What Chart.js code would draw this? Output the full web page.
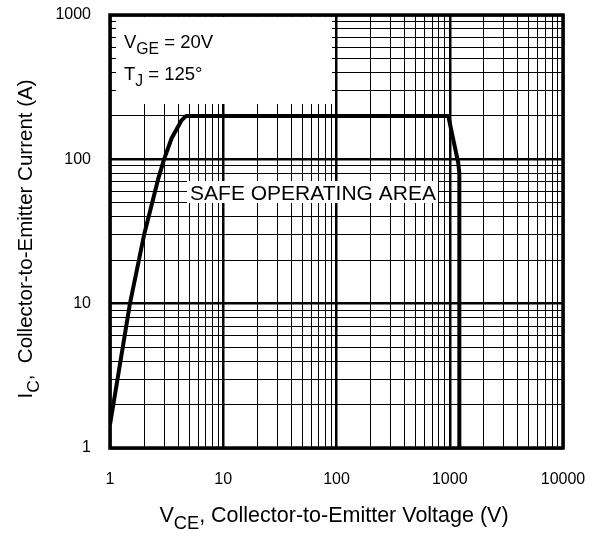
<!DOCTYPE HTML>
<html lang="en">
<head>
  <meta http-equiv="content-type" content="text/html; charset=UTF-8">
  <script src="https://cdn.jsdelivr.net/npm/chart.js@4"></script>
  <style>
    html, body { margin:0; padding:0; background:#fff; }
    #wrap { width:601px; height:537px; }
  </style>
</head>
<body>
  <div id="wrap"><canvas id="chart_soa"></canvas></div>

  <script>
    // Safe operating area boundary (VCE in V, IC in A)
    const vce = [1, 1.5, 2, 2.65, 3, 3.5, 4.3, 4.7, 970, 1190, 1215, 1215];
    const ic  = [1.45, 10, 30, 72, 100, 140, 187, 200, 200, 94, 80, 1];

    const xTicks = [1,2,3,4,5,6,7,8,9,10,20,30,40,50,60,70,80,90,100,200,300,400,500,600,700,800,900,
                    1000,2000,3000,4000,5000,6000,7000,8000,9000,10000];
    const yTicks = [1,2,3,4,5,6,7,8,9,10,20,30,40,50,60,70,80,90,100,200,300,400,500,600,700,800,900,1000];

    const FONT = '"Liberation Sans", Arial, Helvetica, sans-serif';
    const isDecade = v => Math.abs(Math.log10(v) - Math.round(Math.log10(v))) < 1e-9;

    // draw text with subscript runs
    function drawRuns(ctx, runs, x, y, size) {
        let cx = x;
        for (const r of runs) {
            const s = r.sub ? size * 0.85 : size;
            ctx.font = s + 'px ' + FONT;
            ctx.fillText(r.t, cx, r.sub ? y + size * 0.32 : y);
            cx += ctx.measureText(r.t).width;
        }
        return cx - x;
    }
    function runsWidth(ctx, runs, size) {
        let w = 0;
        for (const r of runs) {
            ctx.font = (r.sub ? size * 0.85 : size) + 'px ' + FONT;
            w += ctx.measureText(r.t).width;
        }
        return w;
    }

    const decor = {
        id: 'decor',
        beforeDatasetsDraw(chart) {
            const ctx = chart.ctx, a = chart.chartArea;
            ctx.save();
            ctx.fillStyle = '#fff';
            // condition box (left ticks stay visible)
            ctx.fillRect(a.left + 6, a.top + 2, 332 - a.left - 6, 102 - a.top);
            // area label box
            ctx.fillRect(187, 181, 251, 22);
            ctx.fillStyle = '#000';
            ctx.textBaseline = 'alphabetic';
            ctx.textAlign = 'left';
            drawRuns(ctx, [{t:'V'},{t:'GE',sub:true},{t:' = 20V'}], 124, 48, 18.5);
            drawRuns(ctx, [{t:'T'},{t:'J',sub:true},{t:' = 125°'}], 124, 80, 18.5);
            ctx.font = '21px ' + FONT;
            ctx.textAlign = 'center';
            ctx.fillText('SAFE OPERATING AREA', 313, 200);
            ctx.restore();
        },
        afterDraw(chart) {
            const ctx = chart.ctx, a = chart.chartArea;
            ctx.save();
            ctx.strokeStyle = '#000';
            ctx.lineWidth = 3.5;
            ctx.strokeRect(a.left, a.top, a.right - a.left, a.bottom - a.top);

            ctx.fillStyle = '#000';
            ctx.textAlign = 'left';
            ctx.textBaseline = 'alphabetic';
            const xr = [{t:'V'},{t:'CE',sub:true},{t:', Collector-to-Emitter Voltage (V)'}];
            const xw = runsWidth(ctx, xr, 21.5);
            drawRuns(ctx, xr, 334 - xw / 2, 522, 21.5);

            const yr = [{t:'I'},{t:'C',sub:true},{t:',  Collector-to-Emitter Current (A)'}];
            const yw = runsWidth(ctx, yr, 20.5);
            ctx.translate(32, 239);
            ctx.rotate(-Math.PI / 2);
            drawRuns(ctx, yr, -yw / 2, 0, 20.5);
            ctx.restore();
        }
    };

    function main() {
        new Chart(document.getElementById('chart_soa'), {
            type: 'line',
            data: {
                datasets: [{
                    data: vce.map((v, i) => ({ x: v, y: ic[i] })),
                    borderColor: '#000',
                    borderWidth: 4,
                    pointRadius: 0,
                    tension: 0,
                    borderJoinStyle: 'round',
                    fill: false,
                }],
            },
            options: {
                responsive: false,
                animation: false,
                devicePixelRatio: 1,
                layout: { padding: { top: 15, right: 38, left: 0, bottom: 0 } },
                plugins: { legend: { display: false }, tooltip: { enabled: false } },
                scales: {
                    x: {
                        type: 'logarithmic', min: 1, max: 10000,
                        afterBuildTicks: s => { s.ticks = xTicks.map(v => ({ value: v })); },
                        afterFit: s => { s.height = 89; s.paddingLeft = 0; s.paddingRight = 0; },
                        ticks: {
                            autoSkip: false, maxRotation: 0, padding: 22, color: '#000',
                            font: { family: FONT, size: 16 },
                            callback: v => isDecade(v) ? String(v) : '',
                        },
                        grid: {
                            drawTicks: false, color: '#000',
                            lineWidth: c => (c.tick && isDecade(c.tick.value)) ? 2.5 : 1,
                        },
                        border: { display: false },
                    },
                    y: {
                        type: 'logarithmic', min: 1, max: 1000,
                        afterBuildTicks: s => { s.ticks = yTicks.map(v => ({ value: v })); },
                        afterFit: s => { s.width = 110; s.paddingTop = 0; s.paddingBottom = 0; },
                        ticks: {
                            autoSkip: false, padding: 19, color: '#000',
                            font: { family: FONT, size: 16 },
                            callback: v => isDecade(v) ? String(v) : '',
                        },
                        grid: {
                            drawTicks: false, color: '#000',
                            lineWidth: c => (c.tick && isDecade(c.tick.value)) ? 2.5 : 1,
                        },
                        border: { display: false },
                    },
                },
            },
            plugins: [decor],
        });
    }

    const cv = document.getElementById('chart_soa');
    cv.width = 601; cv.height = 537;
    window.addEventListener('DOMContentLoaded', main);
  </script>
</body>
</html>
